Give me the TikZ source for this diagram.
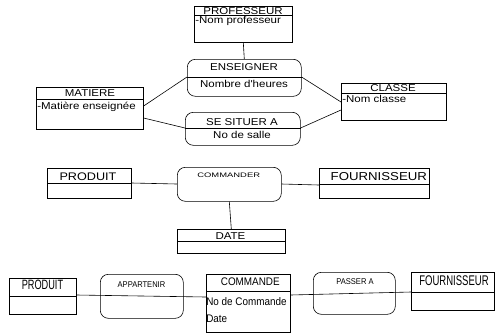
\documentclass[tikz,border=0pt]{standalone}
\usepackage{fontspec}
\setmainfont{Liberation Sans}
\newfontfamily\fa{Liberation Sans}[FakeStretch=1.15]
\newfontfamily\fb{Liberation Sans}[FakeStretch=1.45]
\newfontfamily\fc{Liberation Sans}[FakeStretch=0.68]
\newfontfamily\fd{Liberation Sans}[FakeStretch=0.9]
\begin{document}
\begin{tikzpicture}[x=1pt, y=-1pt, line width=.6pt,
    ent/.style={draw, rectangle, anchor=north west, inner sep=0},
    asso/.style={ent, rounded corners=8pt},
    tit/.style={inner sep=0, anchor=base},
    att/.style={inner sep=0, anchor=base west}]
\useasboundingbox (0,0) rectangle (495,333);

% professeurs / matieres / classes
\node[ent, minimum width=98pt, minimum height=36pt] (prof) at (194,6) {};
\node[asso, minimum width=114pt, minimum height=37pt] (ens) at (187,59) {};
\node[ent, minimum width=107pt, minimum height=42pt] (mat) at (36,87) {};
\node[asso, minimum width=115pt, minimum height=33pt] (sit) at (185,112) {};
\node[ent, minimum width=105pt, minimum height=37pt] (cla) at (341,83) {};

\node[tit, font=\fa\fontsize{10}{12}\selectfont] (prof-t) at (243,14) {PROFESSEUR};
\node[att, font=\fa\fontsize{10}{12}\selectfont] (prof-a) at (195,23) {-Nom professeur};
\node[tit, font=\fa\fontsize{10}{12}\selectfont] (ens-t) at (244,70.7) {ENSEIGNER};
\node[tit, font=\fa\fontsize{10}{12}\selectfont] (ens-a) at (244,87.3) {Nombre d'heures};
\node[tit, font=\fa\fontsize{10}{12}\selectfont] (mat-t) at (90,96.7) {MATIERE};
\node[att, font=\fa\fontsize{10}{12}\selectfont] (mat-a) at (37,109) {-Matière enseignée};
\node[tit, font=\fa\fontsize{10}{12}\selectfont] (sit-t) at (242,125) {SE SITUER A};
\node[tit, font=\fa\fontsize{10}{12}\selectfont] (sit-a) at (242,138.3) {No de salle};
\node[tit, font=\fa\fontsize{10}{12}\selectfont] (cla-t) at (393,91) {CLASSE};
\node[att, font=\fa\fontsize{10}{12}\selectfont] (cla-a) at (342,102.7) {-Nom classe};

% produit / commander / fournisseur
\node[ent, minimum width=84pt, minimum height=30pt] (prod) at (47,168) {};
\node[asso, minimum width=104pt, minimum height=34pt] (cmd) at (177,167) {};
\node[ent, minimum width=110pt, minimum height=30pt] (four) at (319,168) {};
\node[ent, minimum width=108pt, minimum height=24pt] (date) at (177,229) {};

\node[tit, font=\fa\fontsize{11}{12}\selectfont] (prod-t) at (88,180.3) {PRODUIT};
\node[tit, font=\fb\fontsize{6.5}{8}\selectfont] (cmd-t) at (228.7,177.7) {COMMANDER};
\node[tit, font=\fa\fontsize{11.5}{12}\selectfont] (four-t) at (378.8,180.3) {FOURNISSEUR};
\node[tit, font=\fa\fontsize{10}{12}\selectfont] (date-t) at (230.5,239) {DATE};

% commande en ligne
\node[ent, minimum width=67pt, minimum height=36pt] (prod2) at (9,278) {};
\node[asso, minimum width=83pt, minimum height=44pt] (app) at (100,274) {};
\node[ent, minimum width=84pt, minimum height=58pt] (cde) at (206,274) {};
\node[asso, minimum width=82pt, minimum height=42pt] (pas) at (313,272) {};
\node[ent, minimum width=83pt, minimum height=38pt] (four2) at (411,272) {};

\node[tit, font=\fc\fontsize{13.5}{14}\selectfont] (prod2-t) at (42.5,289) {PRODUIT};
\node[tit, font=\fd\fontsize{8.4}{10}\selectfont] (app-t) at (141.5,287.7) {APPARTENIR};
\node[tit, font=\fd\fontsize{11}{12}\selectfont] (cde-t) at (250.3,285.7) {COMMANDE};
\node[att, font=\fd\fontsize{11}{12}\selectfont] (cde-a) at (206,305) {No de Commande};
\node[att, font=\fd\fontsize{11}{12}\selectfont] (cde-b) at (206,322.3) {Date};
\node[tit, font=\fd\fontsize{8.4}{10}\selectfont] (pas-t) at (355,284.3) {PASSER A};
\node[tit, font=\fc\fontsize{14}{14}\selectfont] (four2-t) at (454,285) {FOURNISSEUR};

% separations
\foreach \n/\d in {prof/9, ens/18, mat/12, sit/16, cla/10, prod/15, four/16, date/12, prod2/18, cde/17, four2/20}
    \draw ([yshift=-\d pt]\n.north west) -- ([yshift=-\d pt]\n.north east);

% liens
\draw (prof.south) -- (ens.north);
\draw ([yshift=-19pt]mat.north east) -- ([yshift=-18pt]ens.north west);
\draw ([yshift=-31pt]mat.north east) -- ([yshift=-16pt]sit.north west);
\draw ([yshift=-18pt]ens.north east) -- ([yshift=-19pt]cla.north west);
\draw ([yshift=-16pt]sit.north east) -- ([yshift=-27pt]cla.north west);

\draw ([yshift=-15pt]prod.north east) -- ([yshift=-17pt]cmd.north west);
\draw ([yshift=-17pt]cmd.north east) -- ([yshift=-17pt]four.north west);
\draw (cmd.south) -- (date.north);

\draw ([yshift=-17pt]prod2.north east) -- ([yshift=-23pt]cde.north west);
\draw ([yshift=-21pt]cde.north east) -- ([yshift=-20pt]four2.north west);
\end{tikzpicture}
\end{document}
